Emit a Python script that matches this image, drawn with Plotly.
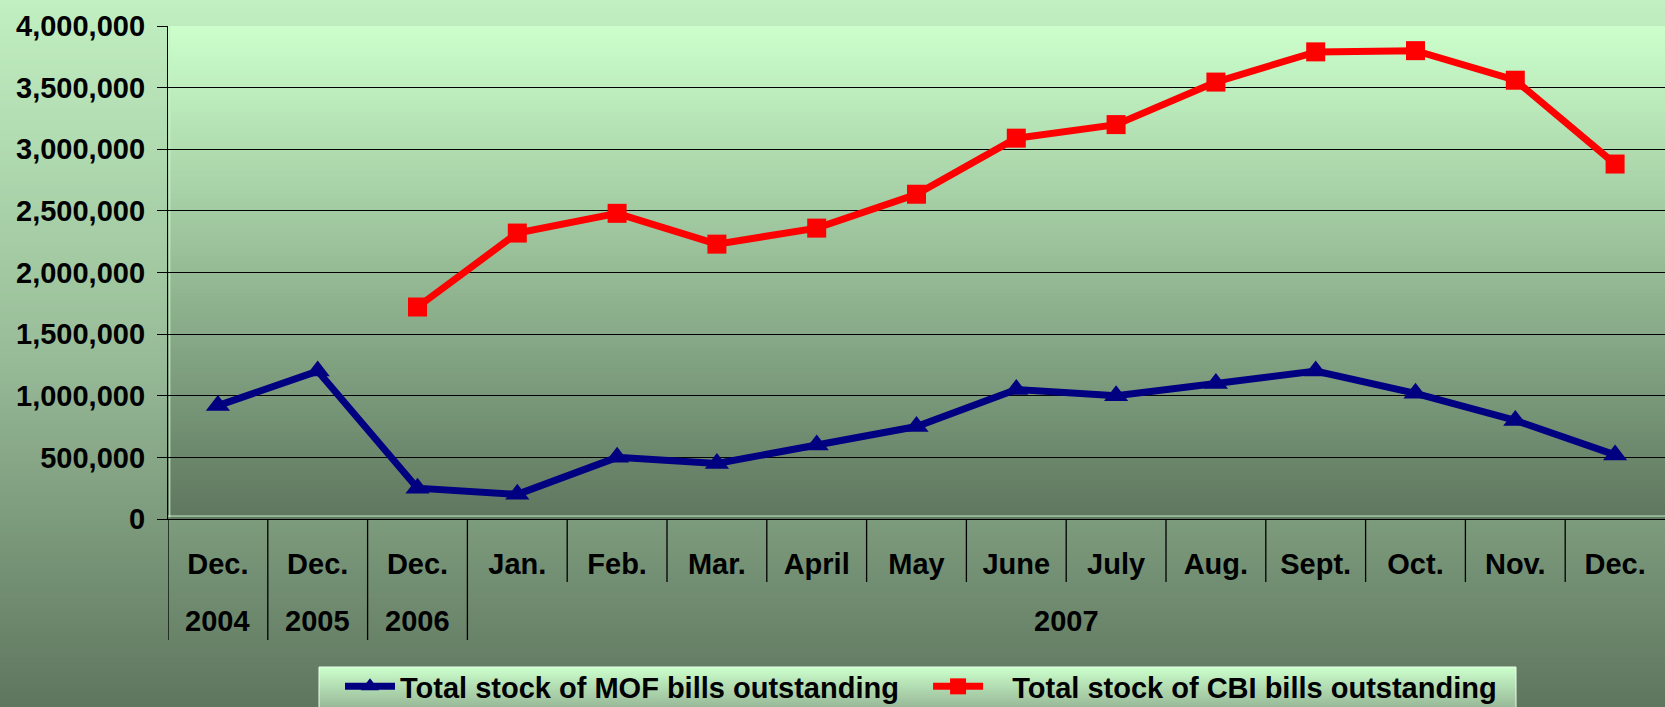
import plotly.graph_objects as go

# ---------------- data ----------------
months = ["Dec.", "Dec.", "Dec.", "Jan.", "Feb.", "Mar.", "April", "May", "June",
          "July", "Aug.", "Sept.", "Oct.", "Nov.", "Dec."]
years = ["2004", "2005", "2006", "2007", "2007", "2007", "2007", "2007", "2007",
         "2007", "2007", "2007", "2007", "2007", "2007"]
mof_bills = [920000, 1200000, 250000, 200000, 500000, 450000, 600000, 750000,
             1050000, 1000000, 1100000, 1200000, 1020000, 800000, 520000]
cbi_bills = [None, None, 1720000, 2320000, 2480000, 2230000, 2360000, 2635000,
             3090000, 3200000, 3545000, 3790000, 3800000, 3560000, 2880000]
y_ticks = [0, 500000, 1000000, 1500000, 2000000, 2500000, 3000000, 3500000, 4000000]
series_names = ["Total stock of MOF bills outstanding\u00a0\u00a0\u00a0",
                "\u00a0\u00a0\u00a0Total stock of CBI bills outstanding"]

# ---------------- geometry / style ----------------
W, H = 1665, 707
ML, MR, MT, MB = 168, 0, 26, 188
PW, PH = W - ML - MR, H - MT - MB
FONT = "Arial, Liberation Sans, sans-serif"
FS = 29

def px_to_py(ypx):
    """pixel y (from top) -> paper y"""
    return (H - MB - ypx) / PH

def px_to_px_paper(xpx):
    return (xpx - ML) / PW

def lerp_color(stops, t):
    for (t0, c0), (t1, c1) in zip(stops[:-1], stops[1:]):
        if t0 <= t <= t1:
            f = 0 if t1 == t0 else (t - t0) / (t1 - t0)
            c = [round(a + (b - a) * f) for a, b in zip(c0, c1)]
            return "rgb(%d,%d,%d)" % tuple(c)
    c = stops[-1][1]
    return "rgb(%d,%d,%d)" % tuple(c)

def gradient_shapes(x0px, x1px, y0px, y1px, stops, n):
    shapes = []
    step = (y1px - y0px) / n
    for i in range(n):
        ya = y0px + i * step
        yb = ya + step + 0.8
        t = (i + 0.5) / n
        col = lerp_color(stops, t)
        shapes.append(dict(type="rect", xref="paper", yref="paper",
                           x0=px_to_px_paper(x0px), x1=px_to_px_paper(x1px),
                           y0=px_to_py(min(yb, y1px)), y1=px_to_py(ya),
                           fillcolor=col, line=dict(width=0), layer="below"))
    return shapes

shapes = []
# whole picture background
shapes += gradient_shapes(-2, W + 2, -2, H + 2, [(0, (194, 240, 194)), (0.5, (152, 188, 152)),
                                                 (1, (94, 117, 94))], 140)
# plot area background
shapes += gradient_shapes(ML, W, MT, H - MB, [(0, (204, 255, 204)), (1, (94, 118, 94))], 120)
# legend box background
LEG_X0, LEG_X1, LEG_Y0 = 319, 1516, 667
shapes += gradient_shapes(LEG_X0, LEG_X1, LEG_Y0, H + 2, [(0, (204, 255, 204)), (1, (150, 182, 150))], 20)
for (xa, ya, xb, yb) in [(LEG_X0, H + 2, LEG_X0, LEG_Y0), (LEG_X0, LEG_Y0, LEG_X1, LEG_Y0),
                         (LEG_X1, H + 2, LEG_X1, LEG_Y0)]:
    shapes.append(dict(type="line", xref="paper", yref="paper",
                       x0=px_to_px_paper(xa), x1=px_to_px_paper(xb),
                       y0=px_to_py(ya), y1=px_to_py(yb),
                       line=dict(color="#e8ffe8", width=1), layer="below"))

# light inner border of the plot area (left & bottom)
shapes.append(dict(type="line", xref="paper", yref="paper", x0=0.0012, x1=0.0012, y0=0.003, y1=1,
                   line=dict(color="#c8f0c8", width=1), layer="below"))
shapes.append(dict(type="line", xref="paper", yref="paper", x0=0, x1=1, y0=0.006, y1=0.006,
                   line=dict(color="#c8f0c8", width=1), layer="below"))

# category dividers (multi-level category axis)
long_y = px_to_py(640)
short_y = px_to_py(582)
for i in range(len(months)):
    new_group = (i == 0) or (years[i] != years[i - 1])
    shapes.append(dict(type="line", xref="x", yref="paper", x0=i - 0.5, x1=i - 0.5,
                       y0=0, y1=long_y if new_group else short_y,
                       line=dict(color="black", width=1.3)))

# year (group) labels
annotations = []
groups = []
for i, yv in enumerate(years):
    if groups and groups[-1][0] == yv:
        groups[-1][2] = i
    else:
        groups.append([yv, i, i])
for yv, a, b in groups:
    annotations.append(dict(x=(a + b) / 2, y=px_to_py(621), xref="x", yref="paper",
                            text=yv, showarrow=False, xanchor="center", yanchor="middle",
                            font=dict(family=FONT, size=FS, color="black", weight="bold")))

fig = go.Figure()
xs = list(range(len(months)))
fig.add_trace(go.Scatter(x=xs, y=mof_bills, name=series_names[0], mode="lines+markers",
                         line=dict(color="#000080", width=7),
                         marker=dict(symbol="triangle-up", size=21, color="#000080")))
fig.add_trace(go.Scatter(x=xs, y=cbi_bills, name=series_names[1], mode="lines+markers",
                         line=dict(color="#ff0000", width=7),
                         marker=dict(symbol="square", size=19, color="#ff0000")))

fig.update_layout(
    width=W, height=H,
    margin=dict(l=ML, r=MR, t=MT, b=MB, pad=0, autoexpand=False),
    paper_bgcolor="#7d9c7d",
    plot_bgcolor="rgba(0,0,0,0)",
    shapes=shapes,
    annotations=annotations,
    font=dict(family=FONT, size=FS, color="black", weight="bold"),
    showlegend=True,
    legend=dict(orientation="h", x=px_to_px_paper(LEG_X0 + 21), xanchor="left",
                y=px_to_py(LEG_Y0 - 6), yanchor="top", bgcolor="rgba(0,0,0,0)",
                font=dict(family=FONT, size=FS, color="black", weight="bold"),
                itemwidth=50, traceorder="normal", tracegroupgap=0),
    xaxis=dict(range=[-0.5, len(months) - 0.5], tickmode="array", tickvals=xs, ticktext=months,
               showgrid=False, zeroline=False, ticks="", showline=True, linecolor="black",
               linewidth=1.3, ticklabelstandoff=19,
               tickfont=dict(family=FONT, size=FS, color="black", weight="bold")),
    yaxis=dict(range=[0, 4000000], tickmode="array", tickvals=y_ticks, tickformat=",d",
               showgrid=True, gridcolor="black", gridwidth=1, zeroline=False,
               ticks="outside", ticklen=10, tickcolor="black", tickwidth=1,
               showline=True, linecolor="black", linewidth=1.3, ticklabelstandoff=6,
               tickfont=dict(family=FONT, size=FS, color="black", weight="bold")),
)

fig.write_html("out.html", config={"displayModeBar": False},
               post_script="document.body.style.margin='0';document.body.style.overflow='hidden';")
